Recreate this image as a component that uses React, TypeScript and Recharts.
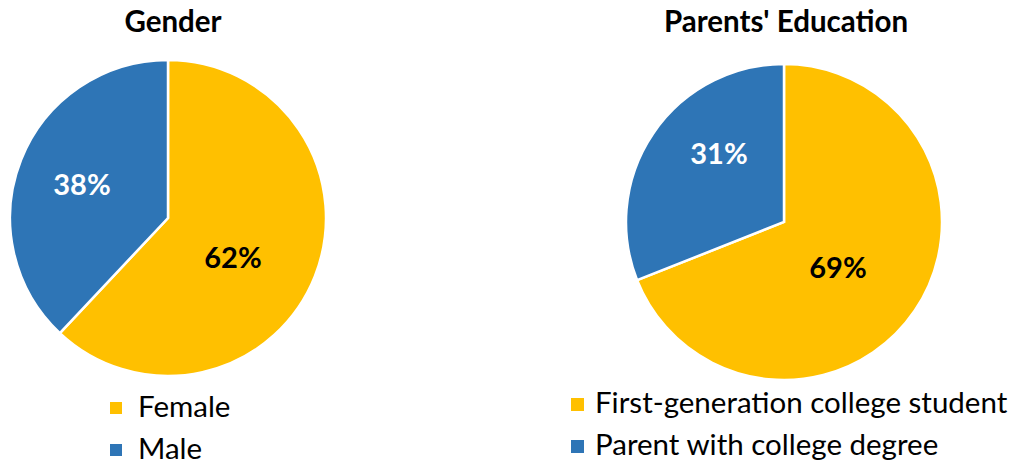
import React from "react";
import { PieChart, Pie, Cell, Legend } from "recharts";

const genderNames = ["Female", "Male"];
const genderValues = [62, 38];
const eduNames = ["First-generation college student", "Parent with college degree"];
const eduValues = [69, 31];
const titles = ["Gender", "Parents' Education"];

const COLORS = ["#FFC000", "#2E75B6"];
const LABEL_COLORS = ["#000000", "#FFFFFF"];
const FONT = "Lato, 'Noto Sans', sans-serif";
const MARGIN = { top: 0, right: 0, bottom: 0, left: 0 };

const genderData = genderNames.map((name, i) => ({ name, value: genderValues[i] }));
const eduData = eduNames.map((name, i) => ({ name, value: eduValues[i] }));

// label placement (dx, dy from pie centre) mimicking Excel's best-fit layout
const genderLabelOffsets = [
  [65, 38],
  [-86, -35],
];
const eduLabelOffsets = [
  [54, 44],
  [-65, -70],
];

const makeLabel = (offsets: number[][]) => (props: any) => {
  const { cx, cy, index, percent } = props;
  const [dx, dy] = offsets[index];
  return (
    <text
      x={cx + dx}
      y={cy + dy}
      textAnchor="middle"
      dominantBaseline="central"
      fill={LABEL_COLORS[index]}
      fontFamily={FONT}
      fontWeight={700}
      fontSize={29}
    >
      {`${Math.round(percent * 100)}%`}
    </text>
  );
};

const makeLegend = (textX: number, box: number) => (props: any) => {
  const payload = props.payload || [];
  return (
    <svg width={460} height={90} style={{ overflow: "visible" }}>
      {payload.map((p: any, i: number) => (
        <g key={i}>
          <rect x={0} y={20 + i * 42} width={box} height={box} fill={COLORS[i]} />
          <text x={textX} y={35 + i * 42} fontFamily={FONT} fontSize={29.5} fill="#000">
            {p.value}
          </text>
        </g>
      ))}
    </svg>
  );
};

const Title = ({ text, x }: { text: string; x: number }) => (
  <div
    style={{
      position: "absolute",
      left: x - 200,
      width: 400,
      top: 3,
      textAlign: "center",
      fontFamily: FONT,
      fontWeight: 700,
      fontSize: 29.5,
      lineHeight: "36px",
      color: "#000",
    }}
  >
    {text}
  </div>
);

export default function App() {
  return (
    <div style={{ position: "absolute", left: 0, top: 0, width: 1013, height: 464, background: "#fff", overflow: "hidden" }}>
      <Title text={titles[0]} x={173} />
      <Title text={titles[1]} x={786} />
      <div style={{ position: "absolute", left: 0, top: 0 }}>
        <PieChart width={1013} height={464} margin={MARGIN}>
          <Pie
            data={genderData}
            dataKey="value"
            nameKey="name"
            cx={168}
            cy={218}
            outerRadius={158}
            startAngle={90}
            endAngle={-270}
            stroke="#fff"
            strokeWidth={2.5}
            label={makeLabel(genderLabelOffsets)}
            labelLine={false}
            isAnimationActive={false}
          >
            {genderData.map((_, i) => (
              <Cell key={i} fill={COLORS[i]} />
            ))}
          </Pie>
          <Legend
            content={makeLegend(28, 12)}
            wrapperStyle={{ position: "absolute", left: 110, top: 382, width: 300, height: 90 }}
          />
        </PieChart>
      </div>
      <div style={{ position: "absolute", left: 0, top: 0 }}>
        <PieChart width={1013} height={464} margin={MARGIN}>
          <Pie
            data={eduData}
            dataKey="value"
            nameKey="name"
            cx={784}
            cy={222}
            outerRadius={158}
            startAngle={90}
            endAngle={-270}
            stroke="#fff"
            strokeWidth={2.5}
            label={makeLabel(eduLabelOffsets)}
            labelLine={false}
            isAnimationActive={false}
          >
            {eduData.map((_, i) => (
              <Cell key={i} fill={COLORS[i]} />
            ))}
          </Pie>
          <Legend
            content={makeLegend(24, 13)}
            wrapperStyle={{ position: "absolute", left: 571, top: 378, width: 460, height: 90 }}
          />
        </PieChart>
      </div>
    </div>
  );
}
